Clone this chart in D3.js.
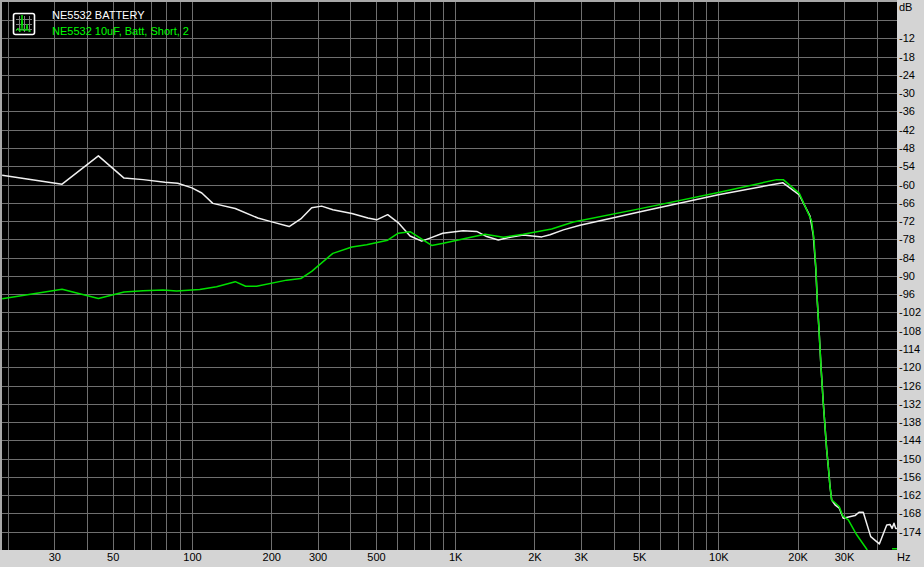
<!DOCTYPE html>
<html><head><meta charset="utf-8">
<script src="https://cdn.jsdelivr.net/npm/d3@7/dist/d3.min.js"></script>
<style>
html,body{margin:0;padding:0;background:#d4d4d4;overflow:hidden}
text{font-family:"Liberation Sans",Arial,sans-serif;font-size:11px}
</style></head><body><svg id="c" width="924" height="567"></svg>
<script>
const whiteHz=[19,32.1,44.1,55.2,65.2,79,88.3,100,109,120,146,178,198,234,259,285,311,343,405,466,503,554,607,674,746,802,897,1071,1207,1318,1458,1616,1814,2133,2292,2577,2980,5000,10000,17554,20300,22290,22940,23440,23770,24180,24540,25040,25800,26160,26560,26950,27750,28800,29820,33040,34220,35520,37920,40880,43620,44880,45700,46480,47170,47720];
const whiteDb=[-57,-59.9,-50.6,-57.9,-58.4,-59.3,-59.6,-61.1,-62.8,-66.2,-67.9,-71,-72.1,-73.8,-71.3,-67.6,-67.1,-68.3,-69.5,-71,-71.6,-69.9,-72.5,-76.9,-78.6,-77.6,-76,-75.2,-75.4,-77.1,-78.2,-77.3,-76.6,-77.2,-76.5,-74.9,-73.4,-69,-63.4,-59.4,-63.4,-70.4,-76.6,-87.4,-98.5,-109.4,-119.8,-131.7,-147.2,-152.6,-159.2,-163.6,-165.2,-166.3,-169.6,-168.7,-167.6,-167.6,-175.6,-178,-171.8,-171.6,-172.9,-171.2,-172.9,-172.9];
const greenHz=[19,32.1,44.1,55.2,65.2,77.6,87.5,107,124,146,160,176,229,259,285,343,405,461,554,608,674,814,902,1090,1298,1524,1814,2326,2810,5000,10000,16660,17640,20300,22620,23090,23490,23770,24180,24540,25040,25800,26160,26560,26950,27750,28800,29680,31160,33540,36800,38000,45700,47720];
const greenDb=[-97.5,-94.4,-97.4,-95.3,-94.9,-94.6,-95,-94.5,-93.6,-91.9,-93.4,-93.4,-91.4,-90.9,-88.5,-82.6,-80.5,-79.8,-78.3,-76,-75.5,-80,-79.3,-77.7,-76.3,-77.3,-76.3,-74.6,-72.3,-68,-62.6,-58.4,-58.4,-62.9,-72,-78.2,-88.1,-98.5,-109.4,-119.8,-131.7,-147.2,-152.6,-159.2,-163.6,-164.5,-165.8,-168.8,-170.1,-175,-180,null,-179.6,-179.6];
const freqGrid=[20,30,40,50,60,70,80,90,100,200,300,400,500,600,700,800,900,1000,2000,3000,4000,5000,6000,7000,8000,9000,10000,20000,30000,40000];
const freqLabels={30:"30",50:"50",100:"100",200:"200",300:"300",500:"500",1000:"1K",2000:"2K",3000:"3K",5000:"5K",10000:"10K",20000:"20K",30000:"30K"};
const dbTicks=d3.range(-6,-180,-6);
const dbLabelTicks=d3.range(-12,-175,-6);
const legendNames=["NE5532 BATTERY","NE5532 10uF, Batt, Short, 2"];

const L=2,R=897,T=1.75,B=550;
const x=d3.scaleLog().domain([20,40000]).range([8,8+263.2*Math.log10(2000)]);
const y=d3.scaleLinear().domain([0,-180]).range([T,B]);
const svg=d3.select("#c");
const fontFamily='"Liberation Sans",Arial,sans-serif';
svg.append("rect").attr("width",924).attr("height",567).attr("fill","#d4d4d4");
svg.append("rect").attr("x",L).attr("y",2).attr("width",R-L).attr("height",B-2).attr("fill","#000");
svg.append("defs").append("clipPath").attr("id","p").append("rect").attr("x",L).attr("y",2).attr("width",R-L).attr("height",B-2);

// grid and axes
const gridColor="#6f6f6f";
const gx=svg.append("g").attr("transform",`translate(0,${B})`).call(d3.axisBottom(x).tickValues(freqGrid).tickSize(-(B-2)).tickPadding(0).tickFormat(d=>freqLabels[d]||""));
gx.select(".domain").remove();
gx.selectAll("line").attr("stroke",gridColor).attr("shape-rendering","crispEdges");
gx.selectAll("text").attr("fill","#000").attr("y",3).attr("dy","0.71em").style("font-family",fontFamily).style("font-size","11px");
const gy=svg.append("g").attr("transform",`translate(${R},0)`).call(d3.axisRight(y).tickValues(dbTicks).tickSize(-(R-L)).tickPadding(2).tickFormat(d=>dbLabelTicks.includes(d)?String(d):""));
gy.select(".domain").remove();
gy.selectAll("line").attr("stroke",gridColor).attr("shape-rendering","crispEdges");
gy.selectAll("text").attr("fill","#000").style("font-family",fontFamily).style("font-size","11px");

// frame
svg.append("path").attr("d",`M1,${B}V1H${R}`).attr("fill","none").attr("stroke","#a8a8a8").attr("stroke-width",2).attr("shape-rendering","crispEdges");
svg.append("text").text("dB").attr("x",899).attr("y",11).attr("fill","#000");
svg.append("text").text("Hz").attr("x",897).attr("y",561).attr("fill","#000");

// curves
const line=d3.line().defined(d=>d[1]!==null).x(d=>x(d[0])).y(d=>y(d[1]));
const g=svg.append("g").attr("clip-path","url(#p)");
g.append("path").datum(d3.zip(whiteHz,whiteDb)).attr("d",line).attr("fill","none").attr("stroke","#f0f0f0").attr("stroke-width",1.5).attr("stroke-linejoin","round");
g.append("path").datum(d3.zip(greenHz,greenDb)).attr("d",line).attr("fill","none").attr("stroke","#00e000").attr("stroke-width",1.5).attr("stroke-linejoin","round");

// legend
svg.append("text").text(legendNames[0]).attr("x",52).attr("y",19).attr("fill","#fff");
svg.append("text").text(legendNames[1]).attr("x",52).attr("y",35).attr("fill","#00ff00");

// icon
const ic=svg.append("g").attr("transform","translate(13,13)");
ic.append("rect").attr("x",.5).attr("y",.5).attr("width",21).attr("height",21).attr("rx",2).attr("fill","#000").attr("stroke","#fff").attr("stroke-width",1.6);
ic.append("path").attr("d","M3 6H19M3 11H19M3 16H19M6 3V19M11 3V19M16 3V19").attr("stroke","#808080").attr("fill","none").attr("shape-rendering","crispEdges");
ic.append("path").attr("d","M3 18L5 15L6 18L8 18L9 2L10 18L12 16L13 18L14 11L15 18L18 18").attr("stroke","#00e000").attr("fill","none");
</script></body></html>
